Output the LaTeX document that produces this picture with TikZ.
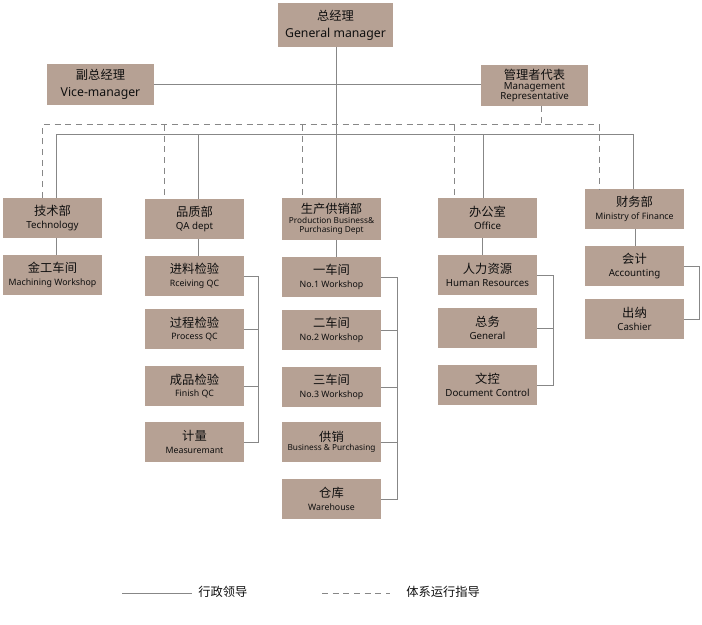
\documentclass[tikz,border=0pt]{standalone}
\usepackage{fontspec}
\setmainfont{Noto Sans}
\newfontfamily\cjk{Noto Sans CJK SC}
\definecolor{boxfill}{RGB}{182,161,148}
\definecolor{linec}{RGB}{135,135,135}
\definecolor{txt}{RGB}{15,15,15}
\newcommand{\cn}[1]{{\cjk\fontsize{9.2}{12}\selectfont #1}}
\tikzset{
  box/.style={fill=boxfill, draw=none, minimum width=74.25pt, minimum height=30pt, inner sep=0pt, align=center, text=txt},
  solidln/.style={draw=linec, line width=0.75pt},
  dashln/.style={draw=linec, line width=0.75pt, dash pattern=on 4.5pt off 3.5pt},
  en/.style={font=\fontsize{7.3}{9.5}\selectfont},
  ens/.style={font=\fontsize{6.6}{9.5}\selectfont},
  enxs/.style={font=\fontsize{6.2}{7.2}\selectfont},
}
\begin{document}
\begin{tikzpicture}[x=0.75pt,y=-0.75pt]
\useasboundingbox (0,0) rectangle (702,624);
% top level
\node[box, minimum width=86.25pt, minimum height=33pt, font=\fontsize{9.2}{12.5}\selectfont] (gm) at (335.5,25) {\cn{总经理}\\General manager};
\node[box, minimum width=80.25pt, minimum height=30.75pt, font=\fontsize{9.2}{12.5}\selectfont] (vice) at (100.5,84.5) {\cn{副总经理}\\Vice-manager};
\node[box, minimum width=80.25pt, minimum height=30.75pt, font=\fontsize{7.3}{7.6}\selectfont] (mr) at (534.5,85.5) {\cn{管理者代表}\\Management\\Representative};
% departments
\node[box, en] (tech) at (52.5,218) {\cn{技术部}\\Technology};
\node[box, en] (qa) at (194.5,219) {\cn{品质部}\\QA dept};
\node[box, enxs, minimum height=31.5pt] (prod) at (331.5,219) {\cn{生产供销部}\\Production Business\&\\Purchasing Dept};
\node[box, en] (office) at (487.5,218) {\cn{办公室}\\Office};
\node[box, ens] (fin) at (634.5,209) {\cn{财务部}\\Ministry of Finance};
% sub units
\node[box, ens] (mach) at (52.5,275) {\cn{金工车间}\\Machining Workshop};
\node[box, ens] (rqc) at (194.5,276) {\cn{进料检验}\\Rceiving QC};
\node[box, ens] (pqc) at (194.5,329) {\cn{过程检验}\\Process QC};
\node[box, ens] (fqc) at (194.5,386) {\cn{成品检验}\\Finish QC};
\node[box, ens] (meas) at (194.5,442) {\cn{计量}\\Measuremant};
\node[box, ens] (w1) at (331.5,277) {\cn{一车间}\\No.1 Workshop};
\node[box, ens] (w2) at (331.5,330) {\cn{二车间}\\No.2 Workshop};
\node[box, ens] (w3) at (331.5,387) {\cn{三车间}\\No.3 Workshop};
\node[box, enxs] (bp) at (331.5,442) {\cn{供销}\\Business \& Purchasing};
\node[box, ens] (wh) at (331.5,499) {\cn{仓库}\\Warehouse};
\node[box, en] (hr) at (487.5,275) {\cn{人力资源}\\Human Resources};
\node[box, en] (gen) at (487.5,328) {\cn{总务}\\General};
\node[box, en] (doc) at (487.5,385) {\cn{文控}\\Document Control};
\node[box, en] (acc) at (634.5,266) {\cn{会计}\\Accounting};
\node[box, en] (cash) at (634.5,319) {\cn{出纳}\\Cashier};
% bus coordinates
\coordinate (sbL) at (56,135);
\coordinate (sbQ) at (198,135);
\coordinate (sbP) at (336,135);
\coordinate (sbO) at (483,135);
\coordinate (sbF) at (633,135);
\coordinate (dbL) at (42,125);
\coordinate (dbQ) at (164,125);
\coordinate (dbP) at (302,125);
\coordinate (dbO) at (454,125);
\coordinate (dbF) at (599,125);
\coordinate (dbM) at (541,125);
\coordinate (gmx) at (336,0);
\coordinate (subT) at (56,0);
\coordinate (subQ) at (198,0);
\coordinate (subO) at (482,0);
\coordinate (subF) at (635,0);
\coordinate (brQ) at (258,0);
\coordinate (brP) at (397,0);
\coordinate (brO) at (553,0);
\coordinate (brF) at (699,0);
% solid lines
\draw[solidln] (gmx |- gm.south) -- (gmx |- prod.north);
\draw[solidln] (vice.east) -- (vice.east -| mr.west);
\draw[solidln] (sbL |- tech.north) -- (sbL) -- (sbF) -- (sbF |- fin.north);
\draw[solidln] (sbQ) -- (sbQ |- qa.north);
\draw[solidln] (sbO) -- (sbO |- office.north);
% dashed lines
\draw[dashln] (dbM |- mr.south) -- (dbM);
\draw[dashln] (dbL |- tech.north) -- (dbL) -- (dbF) -- (dbF |- fin.north);
\draw[dashln] (dbQ) -- (dbQ |- qa.north);
\draw[dashln] (dbP) -- (dbP |- prod.north);
\draw[dashln] (dbO) -- (dbO |- office.north);
% department to sub units
\draw[solidln] (subT |- tech.south) -- (subT |- mach.north);
\draw[solidln] (subQ |- qa.south) -- (subQ |- rqc.north);
\draw[solidln] (gmx |- prod.south) -- (gmx |- w1.north);
\draw[solidln] (subO |- office.south) -- (subO |- hr.north);
\draw[solidln] (subF |- fin.south) -- (subF |- acc.north);
% brackets
\draw[solidln] (rqc.east) -- (brQ |- rqc.east) -- (brQ |- meas.east) -- (meas.east);
\draw[solidln] (pqc.east) -- (brQ |- pqc.east);
\draw[solidln] (fqc.east) -- (brQ |- fqc.east);
\draw[solidln] (w1.east) -- (brP |- w1.east) -- (brP |- wh.east) -- (wh.east);
\draw[solidln] (w2.east) -- (brP |- w2.east);
\draw[solidln] (w3.east) -- (brP |- w3.east);
\draw[solidln] (bp.east) -- (brP |- bp.east);
\draw[solidln] (hr.east) -- (brO |- hr.east) -- (brO |- doc.east) -- (doc.east);
\draw[solidln] (gen.east) -- (brO |- gen.east);
\draw[solidln] (acc.east) -- (brF |- acc.east) -- (brF |- cash.east) -- (cash.east);
% legend
\coordinate (l1a) at (122,593);
\coordinate (l1b) at (192,593);
\coordinate (l2a) at (322,593);
\coordinate (l2b) at (390,593);
\draw[solidln] (l1a) -- (l1b);
\draw[dashln] (l2a) -- (l2b);
\node[anchor=west, inner sep=0pt, text=txt] (lg1) at (198,592) {\cn{行政领导}};
\node[anchor=west, inner sep=0pt, text=txt] (lg2) at (406,592) {\cn{体系运行指导}};
\end{tikzpicture}
\end{document}
